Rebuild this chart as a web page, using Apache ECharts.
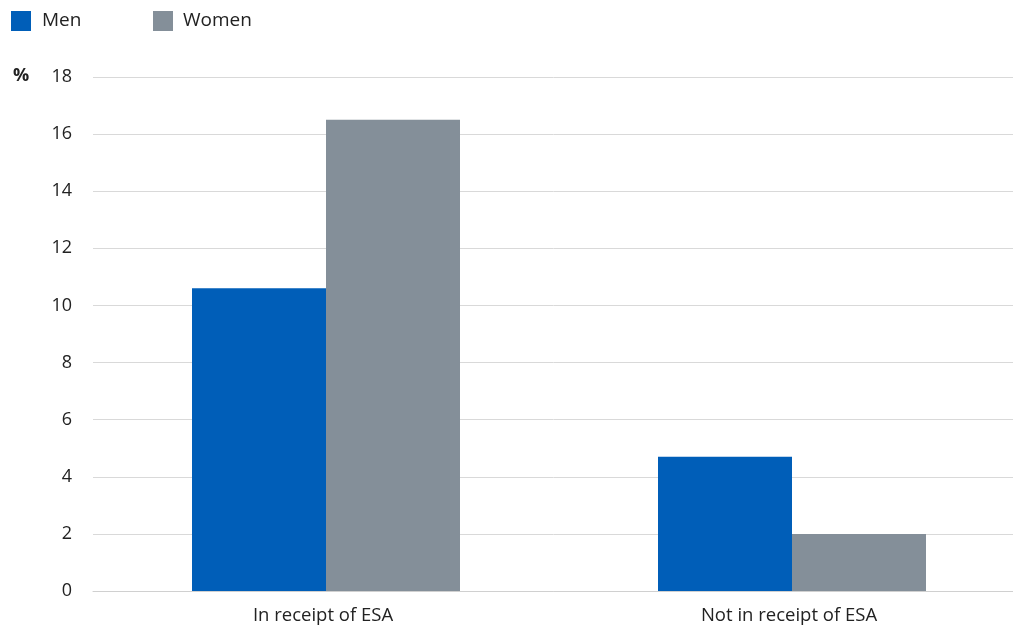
<!DOCTYPE html>
<html>
<head>
<meta charset="utf-8">
<script src="https://cdn.jsdelivr.net/npm/echarts@6/dist/echarts.min.js"></script>
<style>
html,body{margin:0;padding:0;background:#fff;}
#chart{width:1013px;height:629px;}
</style>
</head>
<body>
<div id="chart"></div>
<script>
const categories = ['In receipt of ESA', 'Not in receipt of ESA'];
const seriesNames = ['Men', 'Women'];
const menValues = [10.6, 4.7];
const womenValues = [16.5, 2.0];
const yTicks = [0, 2, 4, 6, 8, 10, 12, 14, 16, 18];

const FONT = '"Open Sans", "Noto Sans", sans-serif';
const chart = echarts.init(document.getElementById('chart'));
chart.setOption({
  animation: false,
  textStyle: { fontFamily: FONT },
  legend: [
    { data: [seriesNames[0]], left: 6, top: 6, itemWidth: 20, itemHeight: 20, icon: 'rect',
      textStyle: { fontSize: 19, color: '#222', fontFamily: FONT, padding: [0, 0, 0, 6] } },
    { data: [seriesNames[1]], left: 148, top: 6, itemWidth: 20, itemHeight: 20, icon: 'rect',
      textStyle: { fontSize: 19, color: '#222', fontFamily: FONT, padding: [0, 0, 0, 5] } }
  ],
  graphic: [{
    type: 'text', left: 13, top: 67,
    style: { text: '%', font: 'bold 18px ' + FONT, fill: '#222' }
  }],
  grid: { left: 93, top: 77, right: -12, bottom: 38, containLabel: false, outerBoundsMode: 'none' },
  xAxis: {
    type: 'category', data: categories,
    axisLine: { lineStyle: { color: '#d0d0d0', width: 1 } },
    axisTick: { show: false },
    axisLabel: { fontSize: 18.5, color: '#222', margin: 15, fontFamily: FONT, padding: [0, 6, 0, 0] }
  },
  yAxis: {
    type: 'value', min: yTicks[0], max: yTicks[yTicks.length - 1], interval: 2,
    axisLine: { show: false }, axisTick: { show: false },
    axisLabel: { fontSize: 18, color: '#222', margin: 21, fontFamily: FONT },
    splitLine: { lineStyle: { color: '#d9d9d9', width: 1 } }
  },
  series: [
    { name: seriesNames[0], type: 'bar', data: menValues, barWidth: 134, barGap: '0%',
      itemStyle: { color: '#005EB8' } },
    { name: seriesNames[1], type: 'bar', data: womenValues, barWidth: 134, barGap: '0%',
      itemStyle: { color: '#848F99' } }
  ]
});
</script>
</body>
</html>
